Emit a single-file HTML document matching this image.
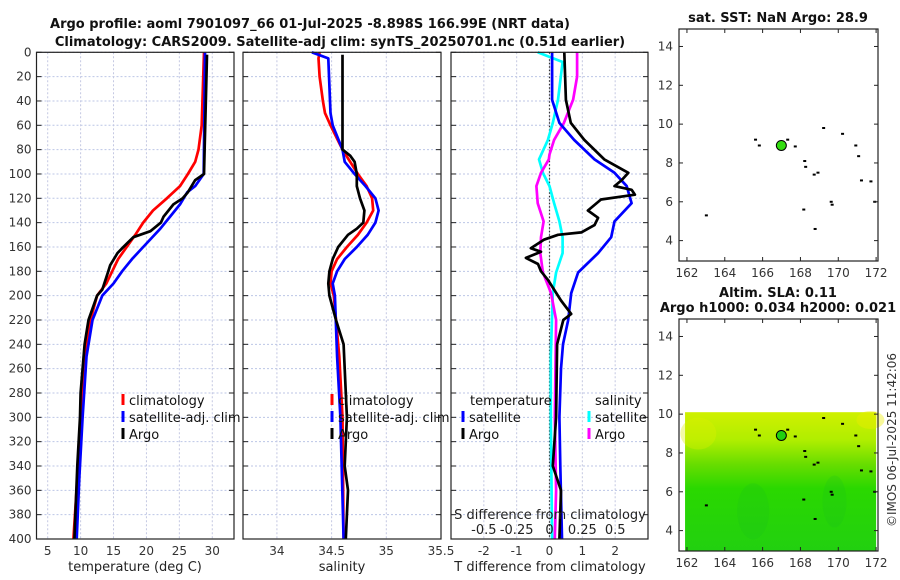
<!DOCTYPE html>
<html><head><meta charset="utf-8"><style>
html,body{margin:0;padding:0;background:#fff;}
svg{display:block;font-family:"DejaVu Sans","Liberation Sans",sans-serif;}
.tk{font-size:12px;fill:#333;}
.lab{font-size:13px;fill:#222;}
.ttl{font-size:13px;font-weight:bold;fill:#111;}
.lg{font-size:13px;fill:#111;}
</style></head><body>
<svg id="fig" width="900" height="580" viewBox="0 0 900 580">
<rect width="900" height="580" fill="#fff"/>
<text class="ttl" x="310" y="28" text-anchor="middle">Argo profile: aoml 7901097_66 01-Jul-2025 -8.898S 166.99E (NRT data)</text>
<text class="ttl" x="340" y="46" text-anchor="middle">Climatology: CARS2009. Satellite-adj clim: synTS_20250701.nc (0.51d earlier)</text>
<g id="p1"></g>
<g id="p2"></g>
<g id="p3"></g>
<g id="m1"></g>
<g id="m2"></g>
<text class="tk" transform="translate(896,440) rotate(-90)" text-anchor="middle">©IMOS 06-Jul-2025 11:42:06</text>
</svg>
<script>
// ---- data ----
const tClimDepth=[0,60,80,90,100,110,120,130,140,150,160,170,180,190,200,220,250,300,350,400];
const tClimVal=[28.75,28.4,27.9,27.4,26.3,25.1,23.1,21.0,19.5,18.3,17.0,15.7,14.8,13.9,12.5,11.5,10.6,9.95,9.5,8.9];
const tSatDepth=[0,100,110,115,125,135,145,160,170,180,190,200,220,250,300,350,400];
const tSatVal=[28.9,28.7,27.4,26.2,25.1,23.6,22.1,19.5,17.8,16.3,15.0,13.3,11.8,10.9,10.3,9.8,9.4];
const tArgoDepth=[2,100,105,115,120,125,135,140,147,152,160,165,175,180,195,200,220,240,280,300,340,400];
const tArgoVal=[29.2,28.75,27.4,26.3,25.5,24.1,22.6,22.2,20.6,18.0,16.5,15.6,14.5,14.2,13.3,12.5,11.2,10.6,10.0,9.9,9.5,9.05];
const sClimDepth=[0,5,20,40,50,60,80,100,110,120,130,140,150,160,170,180,190,200,250,300,400];
const sClimVal=[34.39,34.38,34.39,34.42,34.44,34.49,34.6,34.74,34.82,34.87,34.88,34.82,34.74,34.64,34.55,34.5,34.49,34.52,34.57,34.6,34.61];
const sSatDepth=[0,5,50,60,80,90,100,110,120,130,140,150,160,170,180,190,200,250,300,400];
const sSatVal=[34.32,34.47,34.49,34.51,34.6,34.62,34.71,34.81,34.9,34.93,34.9,34.83,34.73,34.62,34.55,34.51,34.53,34.55,34.58,34.61];
const sArgoDepth=[2,80,85,90,100,110,120,130,140,145,150,160,170,180,190,200,220,240,260,300,340,360,400];
const sArgoVal=[34.6,34.6,34.67,34.71,34.73,34.73,34.76,34.8,34.79,34.73,34.65,34.56,34.51,34.48,34.47,34.48,34.54,34.61,34.62,34.64,34.62,34.65,34.63];
const dTSatDepth=[0,39,58,72,88,99,110,124,139,152,165,181,198,220,240,260,300,340,400];
const dTSatVal=[0.08,0.08,0.3,0.75,1.37,1.98,2.35,2.5,1.98,1.88,1.48,0.87,0.66,0.57,0.41,0.35,0.3,0.33,0.38];
const dTArgoDepth=[0,39,58,72,88,99,105,110,113,117,121,130,136,142,148,150,154,161,164,169,174,180,187,195,204,215,220,240,300,340,360,400];
const dTArgoVal=[0.45,0.5,0.65,1.06,1.67,2.4,2.2,1.98,2.5,2.6,1.57,1.17,1.48,1.37,0.97,0.26,-0.17,-0.57,-0.26,-0.72,-0.35,-0.26,-0.05,0.14,0.35,0.66,0.42,0.23,0.2,0.1,0.35,0.3];
const dSSatDepth=[0,8,39,58,72,88,99,110,124,139,152,165,181,198,250,300,400];
const dSSatVal=[-0.09,0.1,0.065,0.025,-0.012,-0.08,-0.05,0,0.035,0.075,0.1,0.1,0.05,0.025,0.01,0.01,0.02];
const dSArgoDepth=[0,20,39,58,72,84,88,99,110,124,139,152,165,181,198,220,300,360,400];
const dSArgoVal=[0.21,0.21,0.18,0.11,0.035,0,-0.005,-0.065,-0.1,-0.09,-0.045,-0.065,-0.07,-0.05,0.012,0.05,0.04,0.05,0.04];
const depthTicks=[0,20,40,60,80,100,120,140,160,180,200,220,240,260,280,300,320,340,360,380,400];
const tTicks=[5,10,15,20,25,30];
const sTicks=[34,34.5,35,35.5];
const dTTicks=[-2,-1,0,1,2];
const dSTicks=[-0.5,-0.25,0,0.25,0.5];
const latTicks=[4,6,8,10,12,14];
const lonTicks=[162,164,166,168,170,172];
const coastLon=[163,165.6,165.8,167.3,167.7,169.2,170.2,170.9,171.05,168.2,168.25,168.7,168.9,171.2,171.7,171.9,169.6,169.65,168.15,168.75];
const coastLat=[5.3,9.2,8.9,9.2,8.85,9.8,9.5,8.9,8.35,8.1,7.8,7.4,7.5,7.1,7.05,6.0,6.0,5.85,5.6,4.6];
const argoLon=166.99, argoLat=8.9;

const NS='http://www.w3.org/2000/svg';
function mk(parent,tag,attrs){const e=document.createElementNS(NS,tag);for(const k in attrs)e.setAttribute(k,attrs[k]);parent.appendChild(e);return e;}
const Y0=52.3,Y1=539;
const yD=d=>Y0+(d-0)*(Y1-Y0)/400;

function panel(g,x0,x1,xmin,xmax,xticks,xlabels,showY){
  const sx=v=>x0+(v-xmin)*(x1-x0)/(xmax-xmin);
  depthTicks.forEach(d=>{
    const l=mk(g,'line',{x1:x0,x2:x1,y1:yD(d),y2:yD(d),stroke:'#bcc6e6','stroke-width':1,'stroke-dasharray':'2,2'});
    
    mk(g,'line',{x1:x0,x2:x0+5,y1:yD(d),y2:yD(d),stroke:'#222'});
    mk(g,'line',{x1:x1-5,x2:x1,y1:yD(d),y2:yD(d),stroke:'#222'});
    if(showY){const t=mk(g,'text',{x:x0-5,y:yD(d)+4,'text-anchor':'end',class:'tk'});t.textContent=d;
      }
  });
  xticks.forEach((v,i)=>{
    const l=mk(g,'line',{x1:sx(v),x2:sx(v),y1:Y0,y2:Y1,stroke:'#c4c8e2','stroke-width':1,'stroke-dasharray':'2,2'});
    
    const t=mk(g,'text',{x:sx(v),y:Y1+16,'text-anchor':'middle',class:'tk'});t.textContent=xlabels[i];
    
  });
  return sx;
}
function line(g,sx,depths,vals,color,name,w){
  const d=depths.map((dd,i)=>(i?'L':'M')+sx(vals[i]).toFixed(1)+','+yD(dd).toFixed(1)).join('');
  const p=mk(g,'path',{d:d,fill:'none',stroke:color,'stroke-width':w||2.7,'stroke-linejoin':'round'});
  
}
function frame(g,x0,x1,y0,y1){const r=mk(g,'rect',{x:x0,y:y0,width:x1-x0,height:y1-y0,fill:'none',stroke:'#222','stroke-width':1.2});
  }
function legend(g,x,y,color,label,name){
  mk(g,'rect',{x:x-1.5,y:y-6,width:3,height:11,fill:color});
  const t=mk(g,'text',{x:x+6,y:y+5,class:'lg'});t.textContent=label;
  
}
function txt(g,x,y,s,cls,anchor,name){const t=mk(g,'text',{x:x,y:y,class:cls,'text-anchor':anchor||'middle'});t.textContent=s;
  return t;}

// temperature panel
const g1=document.getElementById('p1');
const sxT=panel(g1,36.5,234,3.3,33.3,tTicks,tTicks,true);
line(g1,sxT,tClimDepth,tClimVal,'#f00','temp-climatology-line');
line(g1,sxT,tSatDepth,tSatVal,'#00f','temp-satellite-line');
line(g1,sxT,tArgoDepth,tArgoVal,'#000','temp-argo-line');
frame(g1,36.5,234,Y0,Y1);
legend(g1,123,400,'#f00','climatology','legend-climatology');
legend(g1,123,417,'#00f','satellite-adj. clim','legend-satellite');
legend(g1,123,434,'#000','Argo','legend-argo');
txt(g1,135,571,'temperature (deg C)','lab','middle','x-axis-title-temperature');

// salinity panel
const g2=document.getElementById('p2');
const sxS=panel(g2,243,441,33.69,35.5,sTicks,sTicks,false);
line(g2,sxS,sClimDepth,sClimVal,'#f00','sal-climatology-line');
line(g2,sxS,sSatDepth,sSatVal,'#00f','sal-satellite-line');
line(g2,sxS,sArgoDepth,sArgoVal,'#000','sal-argo-line');
frame(g2,243,441,Y0,Y1);
legend(g2,332,400,'#f00','climatology','legend-climatology');
legend(g2,332,417,'#00f','satellite-adj. clim','legend-satellite');
legend(g2,332,434,'#000','Argo','legend-argo');
txt(g2,342,571,'salinity','lab','middle','x-axis-title-salinity');

// difference panel
const g3=document.getElementById('p3');
const sxD=panel(g3,451,648,-3,3,dTTicks,dTTicks,false);
const sxDS=v=>sxD(v*4);
mk(g3,'line',{x1:sxD(0),x2:sxD(0),y1:Y0,y2:Y1,stroke:'#333','stroke-width':1.2,'stroke-dasharray':'1.5,2'});
line(g3,sxDS,dSSatDepth,dSSatVal,'#0ff','sal-diff-satellite-line');
line(g3,sxDS,dSArgoDepth,dSArgoVal,'#f0f','sal-diff-argo-line');
line(g3,sxD,dTSatDepth,dTSatVal,'#00f','temp-diff-satellite-line');
line(g3,sxD,dTArgoDepth,dTArgoVal,'#000','temp-diff-argo-line');
frame(g3,451,648,Y0,Y1);
txt(g3,470,405,'temperature','lg','start','legend-temperature-header');
legend(g3,463,417,'#00f','satellite','legend-temp-satellite');
legend(g3,463,434,'#000','Argo','legend-temp-argo');
txt(g3,595,405,'salinity','lg','start','legend-salinity-header');
legend(g3,589,417,'#0ff','satellite','legend-sal-satellite');
legend(g3,589,434,'#f0f','Argo','legend-sal-argo');
dSTicks.forEach(v=>{txt(g3,sxDS(v),534,String(v),'lab','middle','s-diff-tick-label');});
txt(g3,550,519,'S difference from climatology','lab','middle','s-diff-axis-title');
txt(g3,550,571,'T difference from climatology','lab','middle','x-axis-title-t-diff');

// maps
function map(g,top,withField,titles){
  const x0=679,x1=878,y0=top,y1=top+232;
  const sx=v=>x0+(v-161.58)*(x1-x0)/(172.1-161.58);
  const sy=v=>y1-(v-2.95)*(y1-y0)/(14.9-2.95);
  if(withField){
    const defs=mk(g,'defs',{});
    const lg=mk(defs,'linearGradient',{id:'fld',x1:0,y1:0,x2:0,y2:1});
    [['0','#d0f000'],['0.2','#b0ee00'],['0.38','#66dd00'],['0.55','#2ad800'],['1','#22d010']].forEach(s=>mk(lg,'stop',{offset:s[0],'stop-color':s[1]}));
    const r=mk(g,'rect',{x:sx(161.9),y:sy(10.1),width:sx(172)-sx(161.9),height:y1-sy(10.1),fill:'url(#fld)'});
    
    mk(g,'ellipse',{cx:sx(162.6),cy:sy(9),rx:18,ry:16,fill:'#ddf000',opacity:0.35});
    mk(g,'ellipse',{cx:sx(171.7),cy:sy(9.7),rx:14,ry:9,fill:'#eeee00',opacity:0.4});
    mk(g,'ellipse',{cx:sx(165.5),cy:sy(5),rx:16,ry:28,fill:'#18c020',opacity:0.2});
    mk(g,'ellipse',{cx:sx(169.8),cy:sy(5.5),rx:12,ry:26,fill:'#18c020',opacity:0.2});
  }
  coastLon.forEach((lo,i)=>{const c=mk(g,'rect',{x:sx(lo)-1,y:sy(coastLat[i])-1,width:3,height:2,fill:'#000'});
    });
  const dot=mk(g,'circle',{cx:sx(argoLon),cy:sy(argoLat),r:5,fill:withField?'#20d010':'#33dd11',stroke:'#000','stroke-width':1});
  
  frame(g,x0,x1,y0,y1);
  latTicks.forEach(v=>{mk(g,'line',{x1:x0,x2:x0+4,y1:sy(v),y2:sy(v),stroke:'#222'});mk(g,'line',{x1:x1-4,x2:x1,y1:sy(v),y2:sy(v),stroke:'#222'});
    txt(g,x0-6,sy(v)+4,String(v),'tk','end','lat-tick-label');});
  lonTicks.forEach(v=>{mk(g,'line',{x1:sx(v),x2:sx(v),y1:y1,y2:y1-4,stroke:'#222'});mk(g,'line',{x1:sx(v),x2:sx(v),y1:y0,y2:y0+4,stroke:'#222'});
    txt(g,sx(v),y1+16,String(v),'tk','middle','lon-tick-label');});
  titles.forEach((t,i)=>txt(g,778,top-7-(titles.length-1-i)*15,t,'ttl','middle','map-title'));
}
map(document.getElementById('m1'),29,false,['sat. SST: NaN Argo: 28.9']);
map(document.getElementById('m2'),319,true,['Altim. SLA: 0.11','Argo h1000: 0.034 h2000: 0.021']);
</script>
</body></html>
